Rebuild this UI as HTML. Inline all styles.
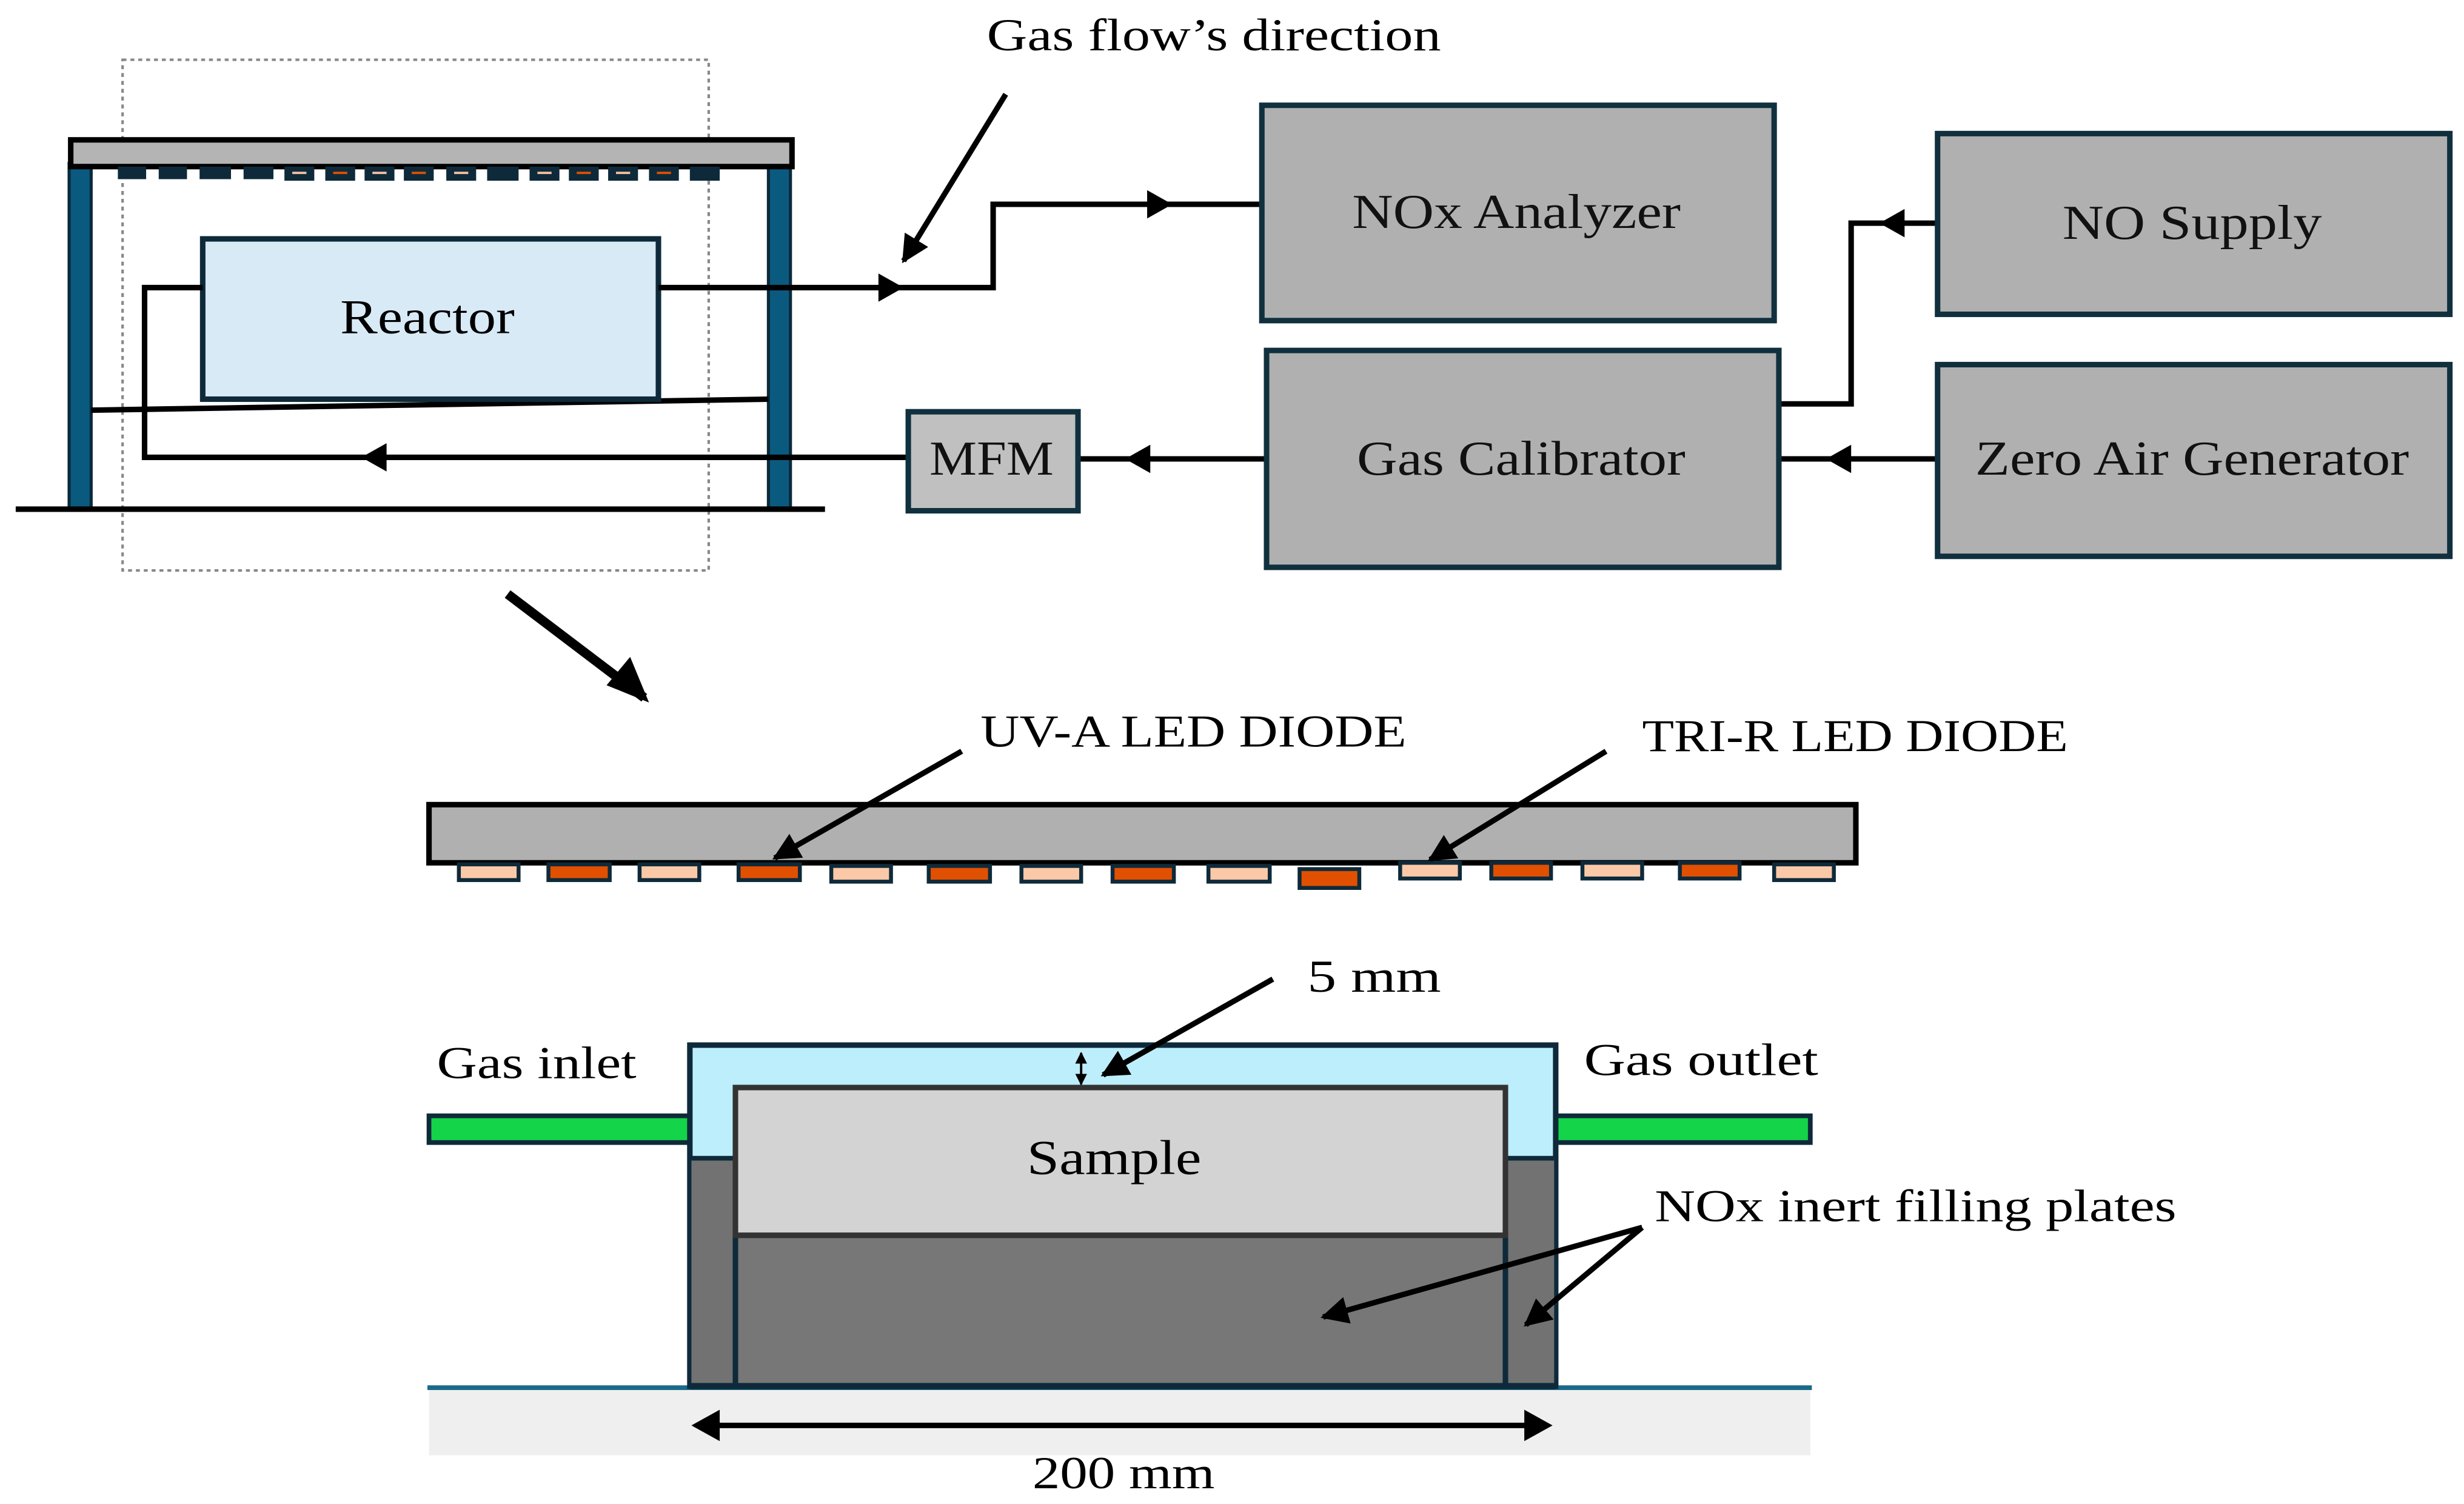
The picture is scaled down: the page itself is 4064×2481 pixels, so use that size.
<!DOCTYPE html>
<html><head><meta charset="utf-8"><style>html,body{margin:0;padding:0;background:#fff}svg{display:block}</style></head>
<body>
<svg width="4064" height="2481" viewBox="0 0 1568 957" preserveAspectRatio="none" xmlns="http://www.w3.org/2000/svg" font-family="'Liberation Serif', serif">
<defs>
<marker id="ah" viewBox="0 0 10 10" refX="9" refY="5" markerWidth="5" markerHeight="5" orient="auto-start-reverse"><path d="M0,0 L10,5 L0,10 z" fill="#000"/></marker>
</defs>
<rect width="1568" height="957" fill="#fff"/>

<rect x="78" y="38" width="373" height="325" fill="none" stroke="#888" stroke-width="1.6" stroke-dasharray="2.5,2.5"/>

<rect x="44" y="104" width="14" height="220" fill="#0a5a80" stroke="#0a2a3a" stroke-width="2"/>
<rect x="489" y="104" width="14" height="220" fill="#0a5a80" stroke="#0a2a3a" stroke-width="2"/>
<rect x="45" y="89" width="459" height="17" fill="#b4b4b4" stroke="#000" stroke-width="3.5"/>
<g fill="#0e2a3a">
<rect x="75" y="106" width="18" height="8"/><rect x="101" y="106" width="18" height="8"/><rect x="127" y="106" width="20" height="8"/><rect x="155" y="106" width="19" height="8"/>
<rect x="181" y="106" width="19" height="9"/><rect x="207" y="106" width="19" height="9"/><rect x="232" y="106" width="19" height="9"/><rect x="257" y="106" width="19" height="9"/>
<rect x="284" y="106" width="19" height="9"/><rect x="310" y="106" width="20" height="9"/><rect x="337" y="106" width="19" height="9"/><rect x="362" y="106" width="19" height="9"/>
<rect x="387" y="106" width="19" height="9"/><rect x="413" y="106" width="19" height="9"/><rect x="439" y="106" width="19" height="9"/>
</g>
<g stroke-width="1.5">
<line x1="186" y1="110" x2="195" y2="110" stroke="#f4c0a0"/><line x1="212" y1="110" x2="221" y2="110" stroke="#e05000"/><line x1="237" y1="110" x2="246" y2="110" stroke="#f4c0a0"/><line x1="262" y1="110" x2="271" y2="110" stroke="#e05000"/><line x1="289" y1="110" x2="298" y2="110" stroke="#f4c0a0"/>
<line x1="342" y1="110" x2="351" y2="110" stroke="#f4c0a0"/><line x1="367" y1="110" x2="376" y2="110" stroke="#e05000"/><line x1="392" y1="110" x2="401" y2="110" stroke="#f4c0a0"/><line x1="418" y1="110" x2="427" y2="110" stroke="#e05000"/>
</g>
<line x1="10" y1="324" x2="525" y2="324" stroke="#000" stroke-width="3.5"/>
<line x1="58" y1="261" x2="489" y2="254" stroke="#000" stroke-width="3.5"/>
<rect x="129" y="152" width="290" height="102" fill="#d9eaf7" stroke="#0e2a3a" stroke-width="3.5"/>
<text x="272" y="212" font-size="31" text-anchor="middle" textLength="111" lengthAdjust="spacingAndGlyphs">Reactor</text>

<g fill="none" stroke="#000" stroke-width="3.5">
<polyline points="129,183 92,183 92,291 578,291"/>
<polyline points="419,183 632,183 632,130 802,130"/>
<line x1="805" y1="292" x2="686" y2="292"/>
<polyline points="1132,257 1178,257 1178,142 1233,142"/>
<line x1="1233" y1="292" x2="1132" y2="292"/>
</g>
<g fill="#000">
<path d="M230,291 L246,282 L246,300 z"/>
<path d="M575,183 L559,174 L559,192 z"/>
<path d="M746,130 L730,121 L730,139 z"/>
<path d="M716,292 L732,283 L732,301 z"/>
<path d="M1196,142 L1212,133 L1212,151 z"/>
<path d="M1162,292 L1178,283 L1178,301 z"/>
</g>

<g fill="#b0b0b0" stroke="#10303e" stroke-width="3.5">
<rect x="803" y="67" width="326" height="137"/>
<rect x="806" y="223" width="326" height="138"/>
<rect x="1233" y="85" width="326" height="115"/>
<rect x="1233" y="232" width="326" height="122"/>
<rect x="578" y="262" width="108" height="63" fill="#c0c0c0"/>
</g>
<g font-size="31" text-anchor="middle" fill="#111" lengthAdjust="spacingAndGlyphs">
<text x="965" y="145" textLength="209" lengthAdjust="spacingAndGlyphs">NOx Analyzer</text>
<text x="968" y="302" textLength="209" lengthAdjust="spacingAndGlyphs">Gas Calibrator</text>
<text x="1395" y="152" textLength="165" lengthAdjust="spacingAndGlyphs">NO Supply</text>
<text x="1395" y="302" textLength="276" lengthAdjust="spacingAndGlyphs">Zero Air Generator</text>
<text x="631" y="302" textLength="79" lengthAdjust="spacingAndGlyphs">MFM</text>
</g>

<text x="628" y="32" font-size="29" textLength="289" lengthAdjust="spacingAndGlyphs">Gas flow’s direction</text>
<line x1="640" y1="60" x2="575" y2="166" stroke="#000" stroke-width="3.5" marker-end="url(#ah)"/>

<line x1="323" y1="378" x2="410" y2="444" stroke="#000" stroke-width="6"/>
<path d="M413,447 L386,436 L401,418 z" fill="#000"/>

<rect x="273" y="512" width="908" height="37" fill="#b0b0b0" stroke="#000" stroke-width="3.5"/>
<g stroke="#0e2a3a" stroke-width="2.5">
<rect x="292" y="550" width="38" height="10" fill="#fcc9a8"/>
<rect x="349" y="550" width="39" height="10" fill="#e05000"/>
<rect x="407" y="550" width="38" height="10" fill="#fcc9a8"/>
<rect x="470" y="550" width="39" height="10" fill="#e05000"/>
<rect x="529" y="551" width="38" height="10" fill="#fcc9a8"/>
<rect x="591" y="551" width="39" height="10" fill="#e05000"/>
<rect x="650" y="551" width="38" height="10" fill="#fcc9a8"/>
<rect x="708" y="551" width="39" height="10" fill="#e05000"/>
<rect x="769" y="551" width="39" height="10" fill="#fcc9a8"/>
<rect x="827" y="553" width="38" height="12" fill="#e05000"/>
<rect x="891" y="549" width="38" height="10" fill="#fcc9a8"/>
<rect x="949" y="549" width="38" height="10" fill="#e05000"/>
<rect x="1007" y="549" width="38" height="10" fill="#fcc9a8"/>
<rect x="1069" y="549" width="38" height="10" fill="#e05000"/>
<rect x="1129" y="550" width="38" height="10" fill="#fcc9a8"/>
</g>
<g font-size="29">
<text x="624" y="475" textLength="271" lengthAdjust="spacingAndGlyphs">UV-A LED DIODE</text>
<text x="1045" y="478" textLength="271" lengthAdjust="spacingAndGlyphs">TRI-R LED DIODE</text>
</g>
<line x1="612" y1="478" x2="493" y2="546" stroke="#000" stroke-width="3.5" marker-end="url(#ah)"/>
<line x1="1022" y1="478" x2="910" y2="547" stroke="#000" stroke-width="3.5" marker-end="url(#ah)"/>

<rect x="273" y="884" width="879" height="42" fill="#efefef"/>
<line x1="272" y1="883" x2="1153" y2="883" stroke="#1a6a8a" stroke-width="3"/>
<rect x="273" y="710" width="168" height="17" fill="#14d44a" stroke="#0e2a3a" stroke-width="3"/>
<rect x="982" y="710" width="170" height="17" fill="#14d44a" stroke="#0e2a3a" stroke-width="3"/>
<rect x="439" y="665" width="551" height="217" fill="#bdeefb" stroke="#0e2a3a" stroke-width="3.5"/>
<rect x="440" y="737" width="549" height="144" fill="#727272"/>
<line x1="440" y1="737" x2="470" y2="737" stroke="#0e2a3a" stroke-width="3"/>
<line x1="957" y1="737" x2="989" y2="737" stroke="#0e2a3a" stroke-width="3"/>
<rect x="468" y="786" width="490" height="96" fill="#777" stroke="#0e2a3a" stroke-width="3.5"/>
<rect x="468" y="692" width="490" height="94" fill="#d3d3d3" stroke="#333" stroke-width="3.5"/>
<line x1="439" y1="882" x2="990" y2="882" stroke="#0e2a3a" stroke-width="4"/>
<text x="709" y="747" font-size="31" text-anchor="middle" textLength="111" lengthAdjust="spacingAndGlyphs">Sample</text>

<line x1="688" y1="670" x2="688" y2="690" stroke="#000" stroke-width="1.5" marker-start="url(#ah)" marker-end="url(#ah)"/>
<line x1="810" y1="623" x2="702" y2="684" stroke="#000" stroke-width="3.5" marker-end="url(#ah)"/>
<text x="832" y="631" font-size="29" textLength="85" lengthAdjust="spacingAndGlyphs">5 mm</text>
<text x="278" y="686" font-size="29" textLength="127" lengthAdjust="spacingAndGlyphs">Gas inlet</text>
<text x="1008" y="684" font-size="29" textLength="149" lengthAdjust="spacingAndGlyphs">Gas outlet</text>
<text x="1053" y="777" font-size="29" textLength="332" lengthAdjust="spacingAndGlyphs">NOx inert filling plates</text>
<line x1="1045" y1="781" x2="842" y2="838" stroke="#000" stroke-width="3.5" marker-end="url(#ah)"/>
<line x1="1045" y1="781" x2="971" y2="843" stroke="#000" stroke-width="3.5" marker-end="url(#ah)"/>

<line x1="444" y1="907" x2="984" y2="907" stroke="#000" stroke-width="3.5"/>
<path d="M440,907 L458,897 L458,917 z" fill="#000"/>
<path d="M988,907 L970,897 L970,917 z" fill="#000"/>
<text x="715" y="947" font-size="29" text-anchor="middle" textLength="116" lengthAdjust="spacingAndGlyphs">200 mm</text>
</svg>
</body></html>
